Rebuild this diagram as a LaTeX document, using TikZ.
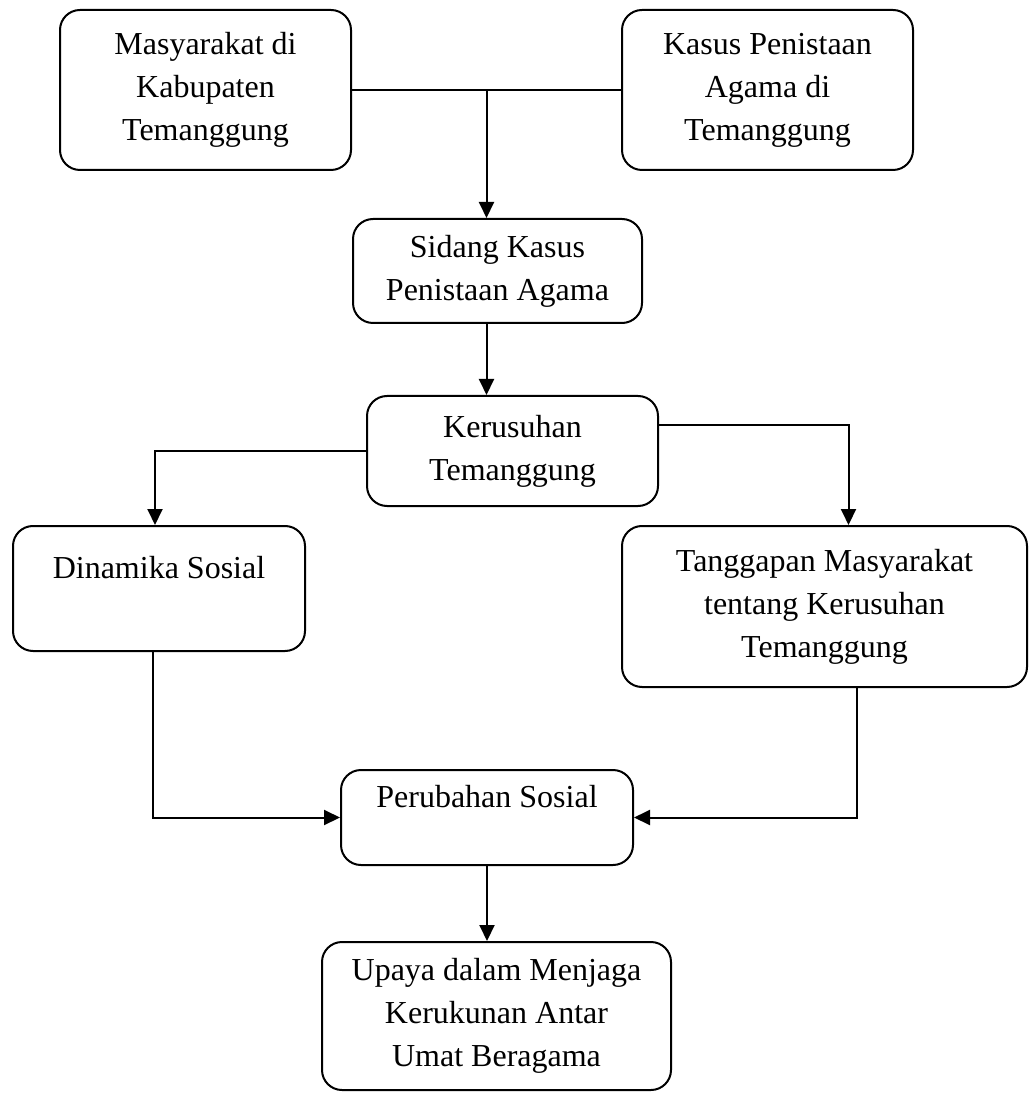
\documentclass[tikz,border=0pt]{standalone}
\usepackage{fontspec}
\setmainfont{Liberation Serif}
\usetikzlibrary{arrows.meta,calc}
\newcommand{\boxline}{1pt}
\tikzset{
  kotak/.style={draw, rounded corners=10pt, line width=\boxline, align=center,
    inner sep=0pt, font=\fontsize{16}{21.5}\selectfont},
  garis/.style={line width=\boxline},
  panah/.style={line width=\boxline, -{Triangle[length=8pt,width=7.5pt]}}
}
\begin{document}
\begin{tikzpicture}[x=0.5pt,y=-0.5pt]
        \useasboundingbox (0,0) rectangle (1029,1095);
        %\draw[help lines] (0,0) grid[step=100] (1029,1095);
        \node[kotak, minimum width=145.5pt, minimum height=80pt] (masy) at (205.5,90) {Masyarakat di\\Kabupaten\\Temanggung};
        \node[kotak, minimum width=145.5pt, minimum height=80pt] (kasus) at (767.5,90) {Kasus Penistaan\\Agama di\\Temanggung};
        \node[kotak, minimum width=144.5pt, minimum height=52pt] (sidang) at (497.5,271) {Sidang Kasus\\Penistaan Agama};
        \node[kotak, minimum width=145.5pt, minimum height=55pt] (rusuh) at (512.5,451) {Kerusuhan\\Temanggung};
        \node[kotak, minimum width=146pt, minimum height=62.5pt] (dinamika) at (159,588.5) {Dinamika Sosial\\ \mbox{}};
        \node[kotak, minimum width=202.5pt, minimum height=80.5pt] (tanggapan) at (824.5,606.5) {Tanggapan Masyarakat\\tentang Kerusuhan\\Temanggung};
        \node[kotak, minimum width=146pt, minimum height=47.5pt] (ubah) at (487,817.5) {Perubahan Sosial\\ \mbox{}};
        \node[kotak, minimum width=174.5pt, minimum height=74pt] (upaya) at (496.5,1016) {Upaya dalam Menjaga\\Kerukunan Antar\\Umat Beragama};
        % garis dan panah
        \coordinate (temu) at ($(masy.east)!0.5!(kasus.west)$);
        \draw[garis] (masy.east) -- (kasus.west);
        \draw[panah] (temu) -- (temu |- sidang.north);
        \draw[panah] (temu |- sidang.south) -- (temu |- rusuh.north);
        \draw[panah] (rusuh.west) -| ([xshift=-2pt]dinamika.north);
        \draw[panah] ([yshift=13pt]rusuh.east) -| ([xshift=12pt]tanggapan.north);
        \draw[panah] ([xshift=-3pt]dinamika.south) |- (ubah.west);
        \draw[panah] ([xshift=16pt]tanggapan.south) |- (ubah.east);
        \draw[panah] (ubah.south) -- (ubah.south |- upaya.north);
\end{tikzpicture}
\end{document}
